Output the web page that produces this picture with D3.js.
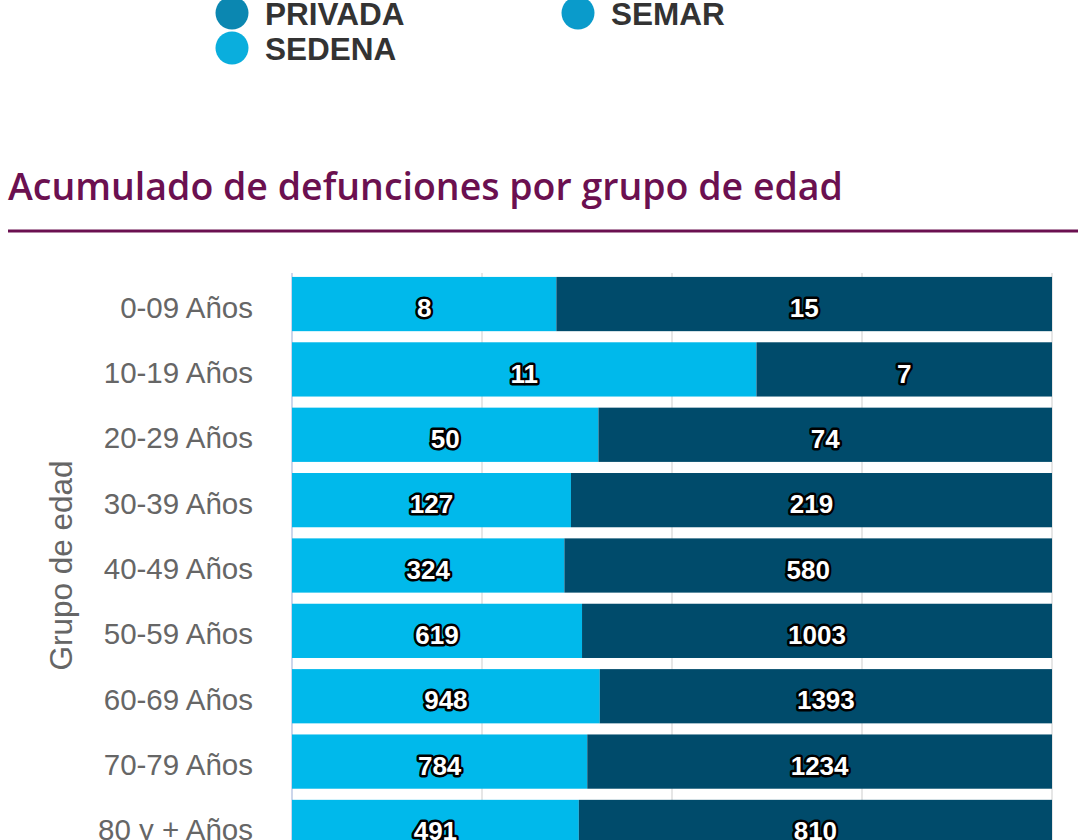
<!DOCTYPE html>
<html>
<head>
  <meta charset="utf-8">
  <style>
    body { margin: 0; background: #fff; }
    svg { display: block; }
    .cat text { font-family: "Liberation Sans", Arial, sans-serif; }
  </style>
</head>
<body>
  <div id="chart_edad"></div>

  <script src="https://d3js.org/d3.v7.min.js"></script>

  <script>
    // legend entries shown above the chart
    var legendNames = ['PRIVADA', 'SEMAR', 'SEDENA'];
    var legendColors = ['#0b87b1', '#0a9bcb', '#0aaedd'];

    // age groups and the two stacked series
    var groups = ['0-09 Años', '10-19 Años', '20-29 Años', '30-39 Años', '40-49 Años',
                  '50-59 Años', '60-69 Años', '70-79 Años', '80 y + Años'];
    var lightValues = [8, 11, 50, 127, 324, 619, 948, 784, 491];
    var darkValues = [15, 7, 74, 219, 580, 1003, 1393, 1234, 810];
    var seriesKeys = ['light', 'dark'];
    var seriesColors = ['#00b9eb', '#004b6b'];
    var pctTicks = [0, 0.25, 0.5, 0.75, 1];

    var width = 1091, height = 840;

    var svg = d3.select('#chart_edad')
        .append('svg')
        .attr('width', width)
        .attr('height', height);

    // legend
    var leg = svg.append('g');
    var legPos = [[232, 13], [578, 13], [232, 48]];
    legendNames.forEach(function (name, i) {
      var g = leg.append('g').attr('transform', 'translate(' + legPos[i][0] + ',' + legPos[i][1] + ')');
      g.append('circle').attr('r', 16.5).attr('fill', legendColors[i]);
      g.append('text')
          .attr('x', 33)
          .attr('y', 12)
          .attr('font-family', '"Liberation Sans", Arial, sans-serif')
          .attr('font-weight', 'bold')
          .attr('font-size', 31.5)
          .attr('fill', '#333')
          .text(name);
    });

    // title + rule
    svg.append('text')
        .attr('x', 8)
        .attr('y', 200)
        .attr('font-family', '"Open Sans", sans-serif')
        .attr('font-size', 37.5)
        .attr('font-weight', 600)
        .attr('fill', '#6b1050')
        .text('Acumulado de defunciones por grupo de edad');

    svg.append('rect')
        .attr('x', 8)
        .attr('y', 229.5)
        .attr('width', 1070)
        .attr('height', 3)
        .attr('fill', '#6b1050');

    var plot = {left: 292, right: 1052, top: 273, bottom: 858};

    var x = d3.scaleLinear()
        .domain([0, 1])
        .range([plot.left, plot.right]);

    var y = d3.scaleBand()
        .domain(groups)
        .range([plot.top, plot.bottom])
        .paddingInner(0.17)
        .paddingOuter(0.06);

    // vertical grid
    svg.append('g')
        .selectAll('line')
        .data(pctTicks)
        .enter().append('line')
        .attr('x1', d => x(d))
        .attr('x2', d => x(d))
        .attr('y1', plot.top)
        .attr('y2', plot.bottom)
        .attr('stroke', '#e6e6e6')
        .attr('stroke-width', 2);

    // left axis line
    svg.append('line')
        .attr('x1', plot.left).attr('x2', plot.left)
        .attr('y1', plot.top).attr('y2', plot.bottom)
        .attr('stroke', '#ccd6eb')
        .attr('stroke-width', 2);

    // category axis
    var yAxis = svg.append('g')
        .attr('class', 'cat')
        .attr('transform', 'translate(' + (plot.left - 39) + ',4)')
        .call(d3.axisLeft(y).tickSize(0).tickPadding(0));
    yAxis.select('.domain').remove();
    yAxis.selectAll('text')
        .attr('font-size', 29.5)
        .attr('fill', '#666');

    svg.append('text')
        .attr('transform', 'translate(72,' + ((plot.top + plot.bottom) / 2) + ') rotate(-90)')
        .attr('text-anchor', 'middle')
        .attr('font-family', '"Liberation Sans", Arial, sans-serif')
        .attr('font-size', 31.5)
        .attr('fill', '#666')
        .text('Grupo de edad');

    // stacked 100% bars
    var rows = groups.map(function (g, i) {
      return {group: g, light: lightValues[i], dark: darkValues[i]};
    });

    var stacked = d3.stack()
        .keys(seriesKeys)
        .offset(d3.stackOffsetExpand)(rows);

    var layers = svg.append('g')
        .selectAll('g')
        .data(stacked)
        .enter().append('g')
        .attr('fill', (d, i) => seriesColors[i]);

    layers.selectAll('rect')
        .data(d => d)
        .enter().append('rect')
        .attr('x', d => x(d[0]))
        .attr('y', d => y(d.data.group))
        .attr('width', d => x(d[1]) - x(d[0]))
        .attr('height', y.bandwidth());

    // data labels
    stacked.forEach(function (layer) {
      svg.append('g')
          .selectAll('text')
          .data(layer)
          .enter().append('text')
          .attr('x', d => (x(d[0]) + x(d[1])) / 2)
          .attr('y', d => y(d.data.group) + y.bandwidth() / 2 + 4)
          .attr('dy', '0.35em')
          .attr('text-anchor', 'middle')
          .attr('font-family', '"Liberation Sans", Arial, sans-serif')
          .attr('font-weight', 'bold')
          .attr('font-size', 26)
          .attr('fill', '#fff')
          .attr('stroke', '#000')
          .attr('stroke-width', 5)
          .attr('stroke-linejoin', 'round')
          .attr('paint-order', 'stroke')
          .text(d => d.data[layer.key]);
    });
  </script>
</body>
</html>
